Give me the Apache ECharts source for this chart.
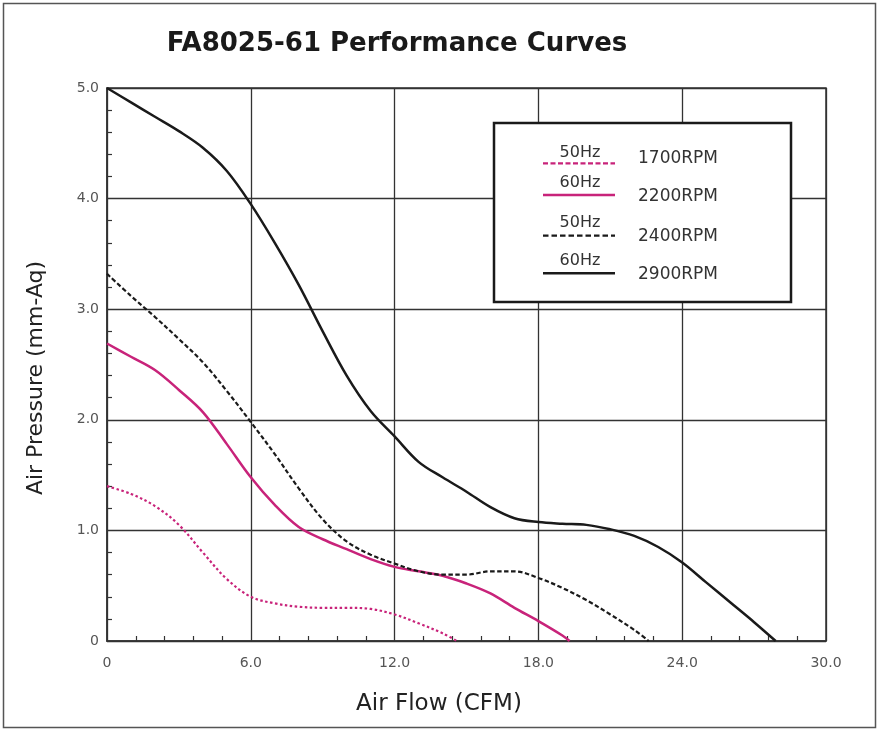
<!DOCTYPE html>
<html>
<head>
<meta charset="utf-8">
<script src="https://cdn.jsdelivr.net/npm/echarts@6/dist/echarts.min.js"></script>
<style>
html,body{margin:0;padding:0;background:#fff;}
#chart{width:878px;height:731px;}
</style>
</head>
<body>
<div id="chart"></div>
<script>
// Air flow (CFM), air pressure (mm-Aq)
const rpm1700 = [[0,1.4],[1,1.33],[2,1.22],[3,1.05],[4,0.8],[5,0.56],[6,0.4],[7,0.34],[8,0.31],[9,0.3],[10,0.3],[11,0.29],[12,0.24],[13,0.16],[14,0.07],[14.6,0]];
const rpm2200 = [[0,2.69],[1,2.57],[2,2.45],[3,2.27],[4,2.07],[5,1.78],[6,1.48],[7,1.23],[8,1.03],[9,0.92],[10,0.83],[11,0.74],[12,0.67],[13,0.63],[14,0.59],[15,0.52],[16,0.43],[17,0.3],[18,0.18],[19,0.05],[19.3,0]];
const rpm2400 = [[0,3.32],[1,3.12],[2,2.93],[3,2.73],[4,2.52],[5,2.26],[6,1.98],[7,1.69],[8,1.38],[9,1.1],[10,0.9],[11,0.78],[12,0.7],[13,0.63],[14,0.6],[15,0.6],[16,0.63],[17,0.63],[18,0.57],[19,0.48],[20,0.37],[21,0.24],[22,0.1],[22.6,0]];
const rpm2900 = [[0,5.0],[1,4.87],[2,4.74],[3,4.61],[4,4.46],[5,4.25],[6,3.95],[7,3.6],[8,3.22],[9,2.8],[10,2.4],[11,2.08],[12,1.85],[13,1.62],[14,1.48],[15,1.35],[16,1.21],[17,1.11],[18,1.075],[19,1.06],[20,1.05],[21,1.01],[22,0.95],[23,0.85],[24,0.71],[25,0.53],[26,0.35],[27,0.17],[27.9,0]];
const legendHz = ['50Hz','60Hz','50Hz','60Hz'];
const legendRpm = ['1700RPM','2200RPM','2400RPM','2900RPM'];

const MAG = '#c8237a';
const BLK = '#1a1a1a';
const FONT = '"DejaVu Sans", Verdana, sans-serif';
const styles = [
  {color: MAG, type: [2.5, 2.5], legendDash: [5, 2.5], width: 2.2},
  {color: MAG, type: 'solid', width: 2.5},
  {color: BLK, type: [4.5, 2.5], legendDash: [5.5, 3], width: 2.2},
  {color: BLK, type: 'solid', width: 2.5}
];
const dataSets = [rpm1700, rpm2200, rpm2400, rpm2900];

const chart = echarts.init(document.getElementById('chart'));
const fmt = v => v === 0 ? '0' : v.toFixed(1);

const graphics = [
  {type:'rect', shape:{x:3.5,y:3.5,width:872,height:724}, style:{fill:'none', stroke:'#555', lineWidth:1.5}, silent:true},
  {type:'rect', shape:{x:494,y:123,width:297,height:179}, style:{fill:'#fff', stroke:'#1a1a1a', lineWidth:2.5}, z:100},
  {type:'text', x:439, y:704, style:{text:'Air Flow (CFM)', font:'23px ' + FONT, fill:'#222', textAlign:'center', textVerticalAlign:'middle'}},
  {type:'text', x:36, y:378, rotation:Math.PI/2, style:{text:'Air Pressure (mm-Aq)', font:'22px ' + FONT, fill:'#222', textAlign:'center', textVerticalAlign:'middle'}}
];
const hzY = [152.5, 182.5, 222.5, 261];
const lineY = [163.3, 195, 235.7, 273.3];
const rpmY = [159, 197, 237, 275];
for (let i = 0; i < 4; i++) {
  graphics.push({type:'text', x: 580, y: hzY[i], z:101, style:{text: legendHz[i], font:'16px ' + FONT, fill:'#333', textAlign:'center', textVerticalAlign:'middle'}});
  graphics.push({type:'line', z:101, shape:{x1:543,y1:lineY[i],x2:615,y2:lineY[i]}, style:{stroke: styles[i].color, lineWidth: styles[i].width, lineDash: styles[i].legendDash || null}});
  graphics.push({type:'text', x: 638, y: rpmY[i], z:101, style:{text: legendRpm[i], font:'17px ' + FONT, fill:'#333', textAlign:'left', textVerticalAlign:'middle'}});
}

chart.setOption({
  backgroundColor:'#fff',
  animation:false,
  title:{
    text:'FA8025-61 Performance Curves',
    left: 392, top: 26, textAlign:'center',
    textStyle:{fontFamily:FONT, fontWeight:'bold', fontSize:26, color:'#1a1a1a'}
  },
  grid:{left:107, right:52, top:88, bottom:90, show:true, borderColor:'#333', borderWidth:1.5, backgroundColor:'#fff'},
  xAxis:{
    type:'value', min:0, max:30, interval:6,
    axisLine:{show:true, lineStyle:{color:'#333', width:1.5}},
    axisTick:{show:true, inside:true, length:5, lineStyle:{color:'#333'}},
    minorTick:{show:true, splitNumber:5, length:5, lineStyle:{color:'#333', width:1.2}},
    splitLine:{show:true, lineStyle:{color:'#333', width:1.3}},
    axisLabel:{formatter: fmt, margin:15, fontSize:14, color:'#555', fontFamily:FONT}
  },
  yAxis:{
    type:'value', min:0, max:5, interval:1,
    axisLine:{show:true, lineStyle:{color:'#333', width:1.5}},
    axisTick:{show:true, inside:true, length:5, lineStyle:{color:'#333'}},
    minorTick:{show:true, splitNumber:5, length:5, lineStyle:{color:'#333', width:1.2}},
    splitLine:{show:true, lineStyle:{color:'#333', width:1.3}},
    axisLabel:{formatter: fmt, margin:8, fontSize:14, color:'#555', fontFamily:FONT}
  },
  series: dataSets.map((d, i) => ({
    type:'line', data:d, smooth:0.35, showSymbol:false, symbol:'none',
    lineStyle:{color: styles[i].color, type: styles[i].type, width: styles[i].width},
    z: 3
  })),
  graphic: graphics
});
</script>
</body>
</html>
